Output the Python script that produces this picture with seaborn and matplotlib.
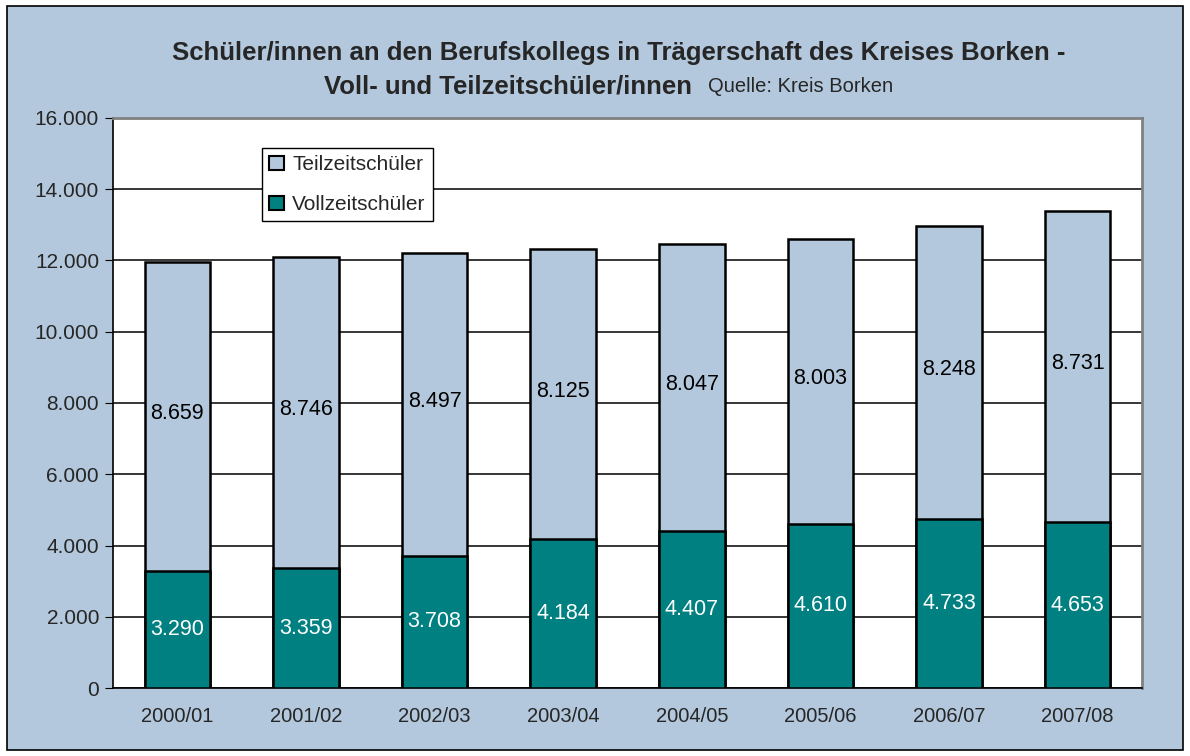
import numpy as np
import pandas as pd
import seaborn as sns
from matplotlib import pyplot as plt
from matplotlib.patches import Rectangle, Patch

years = ["2000/01", "2001/02", "2002/03", "2003/04", "2004/05", "2005/06", "2006/07", "2007/08"]
vollzeit = [3290, 3359, 3708, 4184, 4407, 4610, 4733, 4653]
teilzeit = [8659, 8746, 8497, 8125, 8047, 8003, 8248, 8731]

bg = "#b3c8dc"
teal = "#008080"

sns.set_style("white")
plt.rcParams['font.family'] = ['Liberation Sans', 'DejaVu Sans']

df = pd.DataFrame({"jahr": years, "voll": vollzeit, "teil": teilzeit})
df["gesamt"] = df["voll"] + df["teil"]

fig = plt.figure(figsize=(11.9, 7.56), dpi=100)
fig.patch.set_facecolor("white")
fig.patches.append(Rectangle((7/1190, 6/756), 1176/1190, 744/756, transform=fig.transFigure,
                             facecolor=bg, edgecolor="black", lw=1.2, zorder=-10))
ax = fig.add_axes([113/1190, 68/756, 1029/1190, 570/756])

# gesamt (hell) hinten, vollzeit (teal) davor -> gestapelte Balken
sns.barplot(data=df, x="jahr", y="gesamt", color=bg, saturation=1, width=0.51,
            edgecolor="black", linewidth=1.8, ax=ax, zorder=3)
sns.barplot(data=df, x="jahr", y="voll", color=teal, saturation=1, width=0.51,
            edgecolor="black", linewidth=1.8, ax=ax, zorder=4)

fmt = lambda v: f"{v:,}".replace(",", ".")
for i in range(len(years)):
    ax.text(i, vollzeit[i] / 2, fmt(vollzeit[i]), ha="center", va="center",
            color="white", fontsize=15.5, zorder=5)
    ax.text(i, vollzeit[i] + teilzeit[i] / 2 + 80, fmt(teilzeit[i]), ha="center", va="center",
            color="black", fontsize=15.5, zorder=5)

ax.set_ylim(0, 16000)
ax.set_xlim(-0.5, 7.5)
ax.set_yticks(np.arange(0, 16001, 2000))
ax.set_yticklabels([fmt(v) for v in range(0, 16001, 2000)], fontsize=15)
ax.set_xticks(range(8))
ax.set_xticklabels(years, fontsize=14.5)
ax.tick_params(axis="x", length=0, pad=14)
ax.set_xticks(np.arange(-0.5, 8, 1), minor=True)
ax.tick_params(axis="x", which="minor", length=6, color="black", direction="out")
ax.tick_params(axis="y", length=6, color="black", direction="out", left=True, pad=4)
ax.set_xlabel("")
ax.set_ylabel("")
ax.yaxis.grid(True, color="black", lw=1.1, zorder=0)
ax.set_axisbelow(True)
ax.set_facecolor("white")
for s in ["left", "bottom"]:
    ax.spines[s].set_color("black")
    ax.spines[s].set_linewidth(1.2)
for s in ["top", "right"]:
    ax.spines[s].set_color("#808080")
    ax.spines[s].set_linewidth(2)

handles = [Patch(facecolor=bg, edgecolor="black", lw=1.5),
           Patch(facecolor=teal, edgecolor="black", lw=1.5)]
leg = ax.legend(handles, ["Teilzeitschüler", "Vollzeitschüler"], loc="upper left",
                bbox_to_anchor=(149/1029, 1 - 30/570), fontsize=15, frameon=True, fancybox=False,
                edgecolor="black", framealpha=1, handlelength=0.7, handleheight=0.7,
                handletextpad=0.4, borderpad=0.35, labelspacing=1.0, borderaxespad=0)
leg.get_frame().set_linewidth(1.0)
leg.set_zorder(6)

fig.text(619/1190, 1 - 53/756, "Schüler/innen an den Berufskollegs in Trägerschaft des Kreises Borken -",
         ha="center", va="center", fontsize=18.5, fontweight="bold")
fig.text(692/1190, 1 - 87/756, "Voll- und Teilzeitschüler/innen", ha="right", va="center",
         fontsize=18.5, fontweight="bold")
fig.text(708/1190, 1 - 87/756, "Quelle: Kreis Borken", ha="left", va="center", fontsize=14.5)

fig.savefig("out.png", dpi=100)
